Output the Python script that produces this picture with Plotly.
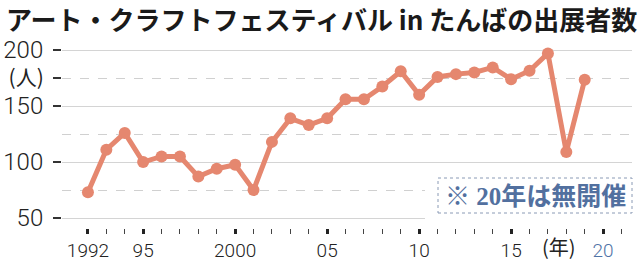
import plotly.graph_objects as go

years = list(range(1992, 2020))
values = [73, 111, 126, 100, 105, 105, 87, 94, 97.5, 75, 118, 139, 133, 139,
          156, 156, 167.5, 181, 160, 176, 178.5, 180, 184.5, 174, 181.5, 197, 109, 173.5]

x_major = [1992, 1995, 2000, 2005, 2010, 2015, 2020]
x_major_text = ["1992", "95", "2000", "05", "10", "15", "<span style='color:#4f73a6'>20</span>"]
x_minor = list(range(1992, 2022))
y_major = [50, 100, 150, 200]
y_unit_val = [175]
y_unit_text = ["(人)"]

title = "アート・クラフトフェスティバル in たんばの出展者数"
note = "※ 20年は無開催"

LINE = "#e5876f"
FONT = "Noto Sans CJK JP"
NUMFONT = "Roboto"

# pixel layout helpers
W, H = 640, 262
L, R, T, B = 62, 8, 44, 34
pw, ph = W - L - R, H - T - B


def px(x):
    return (x - L) / pw


def py(y):
    return (H - B - y) / ph


fig = go.Figure()
fig.add_trace(go.Scatter(
    x=years, y=values, mode="lines+markers",
    line=dict(color=LINE, width=5),
    marker=dict(color=LINE, size=12),
    cliponaxis=False, hoverinfo="skip", showlegend=False,
))
# dummy trace for second axis
fig.add_trace(go.Scatter(x=[years[0]], y=[values[0]], yaxis="y2", mode="markers",
                         marker=dict(opacity=0), showlegend=False, hoverinfo="skip"))

yr = [41.1, 205.4]
fig.update_layout(
    width=W, height=H,
    margin=dict(l=L, r=R, t=T, b=B, autoexpand=False),
    paper_bgcolor="white", plot_bgcolor="white",
    font=dict(family=FONT, color="#222"),
    xaxis=dict(
        range=[1990.59, 2021.57], showgrid=False, zeroline=False, showline=False,
        automargin=False,
        tickmode="array", tickvals=x_major, ticktext=x_major_text,
        ticks="outside", ticklen=5, tickwidth=3, tickcolor="#222",
        tickfont=dict(size=19, color="#222", family=NUMFONT, weight=300),
        minor=dict(tickmode="array", tickvals=x_minor, ticks="outside",
                   ticklen=5, tickwidth=1, tickcolor="#444"),
    ),
    yaxis=dict(
        range=yr, showline=False, zeroline=False, automargin=False,
        tickmode="array", tickvals=y_major,
        showgrid=True, gridcolor="#d4d4d4", gridwidth=1,
        ticks="outside", ticklen=8, tickwidth=2, tickcolor="#333",
        ticklabelstandoff=5,
        tickfont=dict(size=24, color="#222", family=NUMFONT, weight=300),
        minor=dict(dtick=25, tick0=0, showgrid=True, griddash="dash",
                   gridcolor="#d0d0d0", gridwidth=1, ticks=""),
    ),
    yaxis2=dict(
        range=yr, overlaying="y", side="left", anchor="x", automargin=False,
        showgrid=False, zeroline=False, showline=False,
        tickmode="array", tickvals=y_unit_val, ticktext=y_unit_text,
        ticks="outside", ticklen=8, tickwidth=2, tickcolor="#333",
        ticklabelstandoff=5,
        tickfont=dict(size=21, color="#222", family=FONT),
    ),
    shapes=[
        dict(type="rect", xref="paper", yref="paper", layer="above",
             x0=px(425), x1=px(640), y0=py(224), y1=py(175),
             fillcolor="white", line=dict(width=0)),
        dict(type="rect", xref="paper", yref="paper", layer="above",
             x0=px(438), x1=px(632), y0=py(213), y1=py(178),
             fillcolor="white", line=dict(color="#8a9ab5", width=1, dash="dot")),
    ],
    annotations=[
        dict(text=title, xref="paper", yref="paper", x=px(4), y=py(18),
             xanchor="left", yanchor="middle", showarrow=False,
             font=dict(size=26, color="#1a1a1a", family=FONT, weight="bold")),
        dict(text=note, xref="paper", yref="paper", x=px(535), y=py(196),
             xanchor="center", yanchor="middle", showarrow=False,
             font=dict(size=25, color="#52709f", family="Liberation Serif, " + FONT, weight="bold")),
        dict(text="(年)", xref="x", yref="paper", x=2017.6, y=py(247),
             xanchor="center", yanchor="middle", showarrow=False,
             font=dict(size=20, color="#222", family=FONT)),
    ],
)

fig.write_html("out.html")
